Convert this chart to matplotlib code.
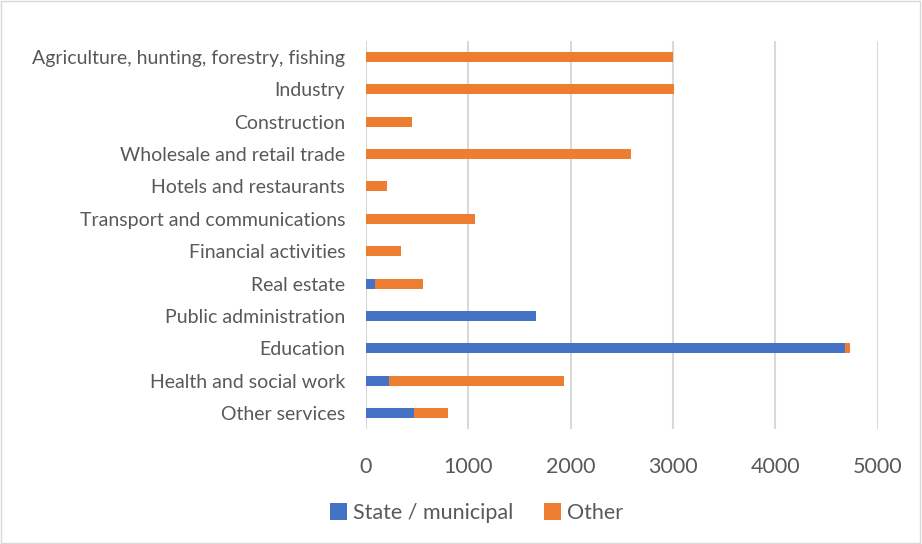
import matplotlib.pyplot as plt
from matplotlib.patches import Rectangle

categories = [
    "Agriculture, hunting, forestry, fishing",
    "Industry",
    "Construction",
    "Wholesale and retail trade",
    "Hotels and restaurants",
    "Transport and communications",
    "Financial activities",
    "Real estate",
    "Public administration",
    "Education",
    "Health and social work",
    "Other services",
]
state_municipal = [0, 0, 0, 0, 0, 0, 0, 88, 1662, 4680, 228, 469]
other = [2995, 3010, 450, 2590, 205, 1062, 342, 472, 0, 51, 1705, 333]
xticks = [0, 1000, 2000, 3000, 4000, 5000]

plt.rcParams['font.family'] = ['Lato', 'DejaVu Sans']
text_color = '#595959'

fig = plt.figure(figsize=(9.22, 5.44), dpi=100)
ax = fig.add_axes([0.397, 0.211, 0.555, 0.714])

y = list(range(len(categories)))
ax.barh(y, state_municipal, height=0.31, color='#4472c4', label='State / municipal', zorder=3)
ax.barh(y, other, left=state_municipal, height=0.31, color='#ed7d31', label='Other', zorder=3)

ax.set_ylim(len(categories) - 0.5, -0.5)
ax.set_xlim(0, 5000)
ax.set_yticks(y)
ax.set_yticklabels(categories, fontsize=14, color=text_color)
ax.set_xticks(xticks)
ax.set_xticklabels([str(t) for t in xticks], fontsize=15.5, color=text_color)
ax.tick_params(axis='both', length=0)
ax.tick_params(axis='y', pad=15)
ax.tick_params(axis='x', pad=20)
ax.grid(axis='x', color='#d9d9d9', linewidth=1.5, zorder=0)
for s in ax.spines.values():
    s.set_visible(False)

fig.legend(loc='center', bbox_to_anchor=(0.517, 0.057), ncol=2, frameon=False,
           fontsize=15.5, handlelength=0.8, handleheight=0.8, handletextpad=0.3,
           columnspacing=1.4, labelcolor=text_color)

# thin frame around the whole chart
fig.patches.append(Rectangle((0.001, 0.002), 0.997, 0.996, transform=fig.transFigure,
                             fill=False, edgecolor='#d9d9d9', linewidth=1))

fig.savefig('out.png', dpi=100)
